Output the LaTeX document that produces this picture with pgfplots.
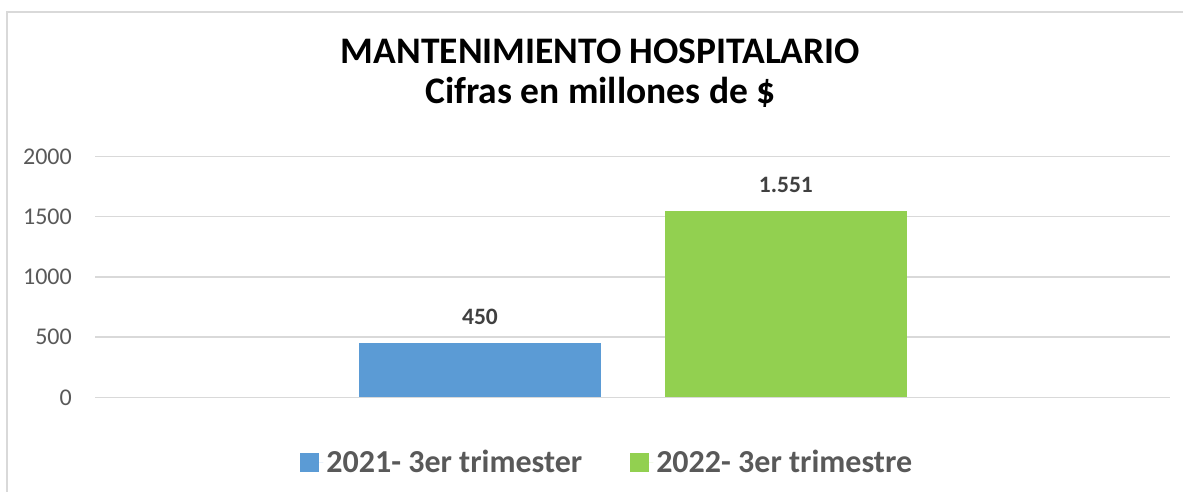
\documentclass[border=0pt]{standalone}
\usepackage{pgfplots}
\pgfplotsset{compat=1.18}
\usepackage{fontspec}
\setmainfont{Carlito}
\definecolor{bblue}{HTML}{5B9BD5}
\definecolor{bgreen}{HTML}{92D050}
\definecolor{gridc}{HTML}{D9D9D9}
\definecolor{tickc}{HTML}{595959}
\definecolor{labc}{HTML}{404040}
\begin{document}
\begin{tikzpicture}[x=1pt,y=1pt]
\useasboundingbox (0,0) rectangle (1183,492);
\draw[gridc, line width=1.5pt] (7,-20) -- (7,480) -- (1200,480);
\begin{axis}[
  at={(95pt,94.7pt)}, anchor=south west,
  scale only axis, width=1075pt, height=240.6pt,
  xmin=0, xmax=1075, ymin=0, ymax=2000,
  ytick={0,500,1000,1500,2000}, xtick=\empty,
  ymajorgrids, grid style={gridc, line width=1.3pt},
  axis line style={draw=none}, major tick length=0pt,
  /pgf/number format/assume math mode=true,
  /pgf/number format/1000 sep={},
  yticklabel style={font=\fontsize{24}{28}\selectfont, text=tickc, inner sep=0pt},
  yticklabel shift=23pt,
  ybar, bar width=242.5, bar shift=0pt,
  nodes near coords={\pgfmathprintnumber[1000 sep={.}]{\pgfplotspointmeta}},
  nodes near coords style={font=\bfseries\fontsize{23.5}{27}\selectfont, text=labc, anchor=south, inner sep=0pt, yshift=18pt},
  legend columns=2,
  legend style={draw=none, fill=none, at={(axis description cs:0.477,-0.269)}, anchor=center,
    font=\bfseries\fontsize{32}{38}\selectfont, text=tickc,
    /tikz/every even column/.append style={column sep=45pt},
    inner sep=0pt, nodes={inner sep=3pt}},
  legend image code/.code={\fill[#1] (0pt,-9.5pt) rectangle (18.5pt,9.5pt); \path (0pt,0pt) -- (23pt,0pt);},
  title={MANTENIMIENTO HOSPITALARIO\\Cifras en millones de \$},
  title style={font=\bfseries\fontsize{37.5}{40.5}\selectfont, align=center,
    at={(axis description cs:0.4702,1)}, anchor=south, inner sep=0pt, yshift=43pt},
]
\addplot[fill=bblue, draw=none] coordinates {(385,450)};
\addplot[fill=bgreen, draw=none] coordinates {(690.85,1551)};
\legend{2021- 3er trimester, 2022- 3er trimestre}
\end{axis}
\end{tikzpicture}
\end{document}
